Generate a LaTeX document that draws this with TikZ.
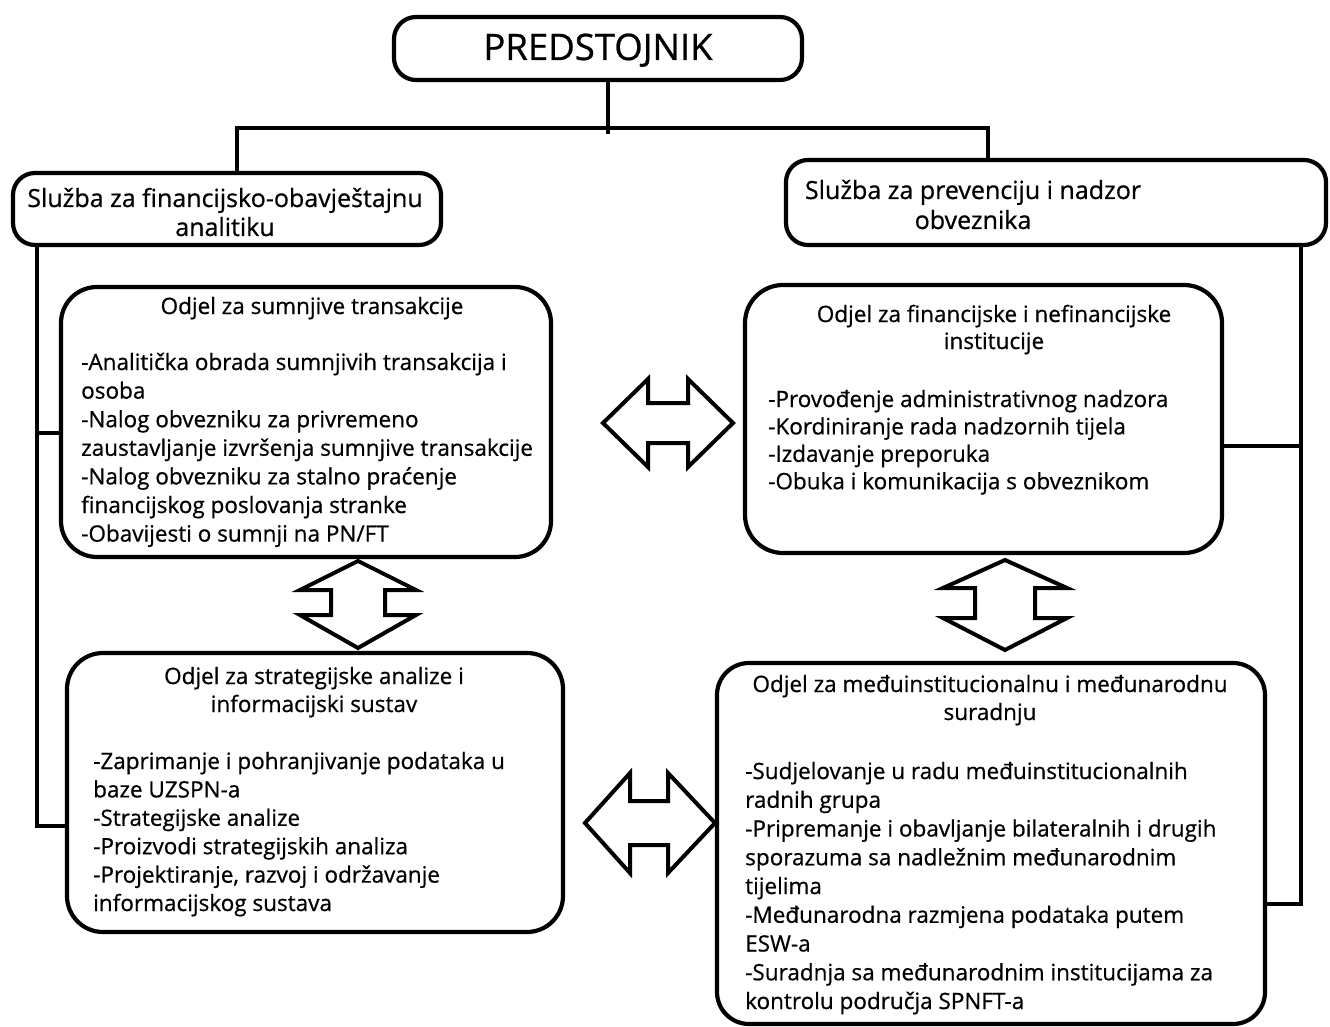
\documentclass[tikz,border=0pt]{standalone}
\usepackage{fontspec}
\setmainfont{Open Sans}[FakeBold=0.7]
\begin{document}
\begin{tikzpicture}[x=1pt,y=-1pt,
  box/.style={draw, line width=4.2pt, rounded corners=#1, inner sep=0pt},
  box/.default=34pt,
  conn/.style={line width=4.2pt},
  barrow/.style={draw, line width=4pt, line join=miter},
  bodytxt/.style={anchor=base west, inner sep=0pt, font=\fontsize{22.5}{#1}\selectfont},
  ttl/.style={anchor=base, inner sep=0pt, font=\fontsize{22.5}{#1}\selectfont},
  svc/.style={anchor=base, inner sep=0pt, font=\fontsize{25}{#1}\selectfont}
]
\useasboundingbox (0,0) rectangle (1330,1027);

% ---- boxes ----
\node[box=22pt, minimum width=408pt, minimum height=63pt] (P) at (598,48.5) {};
\node[box=22pt, minimum width=428pt, minimum height=72pt] (S1) at (227,209) {};
\node[box=22pt, minimum width=540pt, minimum height=85pt] (S2) at (1056,202.5) {};
\node[box=36pt, minimum width=490pt, minimum height=270pt] (D1) at (306,422) {};
\node[box=36pt, minimum width=496pt, minimum height=279pt] (D2) at (315,792.5) {};
\node[box=38pt, minimum width=477pt, minimum height=268pt] (D3) at (983.5,419) {};
\node[box=32pt, minimum width=548pt, minimum height=361pt] (D4) at (991,843.5) {};

% ---- texts ----
\node[anchor=base, inner sep=0pt, font=\fontsize{36.5}{40}\selectfont] (Pt) at (598,60) {PREDSTOJNIK};
\node[svc=29] (S1t) at (225,207) {\begin{tabular}[t]{@{}c@{}}Služba za financijsko-obavještajnu\\ analitiku\end{tabular}};
\node[svc=30] (S2t) at (973,199) {\begin{tabular}[t]{@{}c@{}}Služba za prevenciju i nadzor\\ obveznika\end{tabular}};

\node[ttl=28] (D1t) at (312,314) {\begin{tabular}[t]{@{}c@{}}Odjel za sumnjive transakcije\end{tabular}};
\node[bodytxt=28.6] (D1b) at (81,370) {\begin{tabular}[t]{@{}l@{}}-Analitička obrada sumnjivih transakcija i\\ osoba\\ -Nalog obvezniku za privremeno\\ zaustavljanje izvršenja sumnjive transakcije\\ -Nalog obvezniku za stalno praćenje\\ financijskog poslovanja stranke\\ -Obavijesti o sumnji na PN/FT\end{tabular}};

\node[ttl=28] (D2t) at (314,684) {\begin{tabular}[t]{@{}c@{}}Odjel za strategijske analize i\\ informacijski sustav\end{tabular}};
\node[bodytxt=28.4] (D2b) at (93,769) {\begin{tabular}[t]{@{}l@{}}-Zaprimanje i pohranjivanje podataka u\\ baze UZSPN-a\\ -Strategijske analize\\ -Proizvodi strategijskih analiza\\ -Projektiranje, razvoj i održavanje\\ informacijskog sustava\end{tabular}};

\node[ttl=27] (D3t) at (994,322) {\begin{tabular}[t]{@{}c@{}}Odjel za financijske i nefinancijske\\ institucije\end{tabular}};
\node[bodytxt=27.4] (D3b) at (768,407) {\begin{tabular}[t]{@{}l@{}}-Provođenje administrativnog nadzora\\ -Kordiniranje rada nadzornih tijela\\ -Izdavanje preporuka\\ -Obuka i komunikacija s obveznikom\end{tabular}};

\node[ttl=28] (D4t) at (990,692) {\begin{tabular}[t]{@{}c@{}}Odjel za međuinstitucionalnu i međunarodnu\\ suradnju\end{tabular}};
\node[bodytxt=28.75] (D4b) at (745,779) {\begin{tabular}[t]{@{}l@{}}-Sudjelovanje u radu međuinstitucionalnih\\ radnih grupa\\ -Pripremanje i obavljanje bilateralnih i drugih\\ sporazuma sa nadležnim međunarodnim\\ tijelima\\ -Međunarodna razmjena podataka putem\\ ESW-a\\ -Suradnja sa međunarodnim institucijama za\\ kontrolu područja SPNFT-a\end{tabular}};

% ---- connectors ----
\coordinate (jt) at (608,134);
\coordinate (jl) at (237,128);
\coordinate (jr) at (988,128);
\draw[conn] (P.south -| jt) -- (jt);
\draw[conn] (S1.north -| jl) -- (jl) -- (jr) -- (S2.north -| jr);

\coordinate (la) at (37,433);
\coordinate (lb) at (37,826);
\draw[conn] (S1.south -| lb) -- (lb) -- (D2.west |- lb);
\draw[conn] (la) -- (D1.west |- la);

\coordinate (ra) at (1301,446);
\coordinate (rb) at (1301,904);
\draw[conn] (S2.south -| rb) -- (rb) -- (D4.east |- rb);
\draw[conn] (ra) -- (D3.east |- ra);

% ---- block double arrows ----
\draw[barrow] (603,423) -- (648,379) -- (648,403) -- (688,403) -- (688,379) -- (733,423)
  -- (688,467) -- (688,443) -- (648,443) -- (648,467) -- cycle;
\draw[barrow] (585,823) -- (630,773) -- (630,801) -- (668,801) -- (668,773) -- (715,823)
  -- (668,873) -- (668,845) -- (630,845) -- (630,873) -- cycle;
\draw[barrow] (358,561) -- (416,590) -- (385,590) -- (385,615) -- (416,615) -- (358,648)
  -- (300,615) -- (331,615) -- (331,590) -- (300,590) -- cycle;
\draw[barrow] (1005,560) -- (1067,588) -- (1035,588) -- (1035,618) -- (1067,618) -- (1005,650)
  -- (943,618) -- (975,618) -- (975,588) -- (943,588) -- cycle;
\end{tikzpicture}
\end{document}
